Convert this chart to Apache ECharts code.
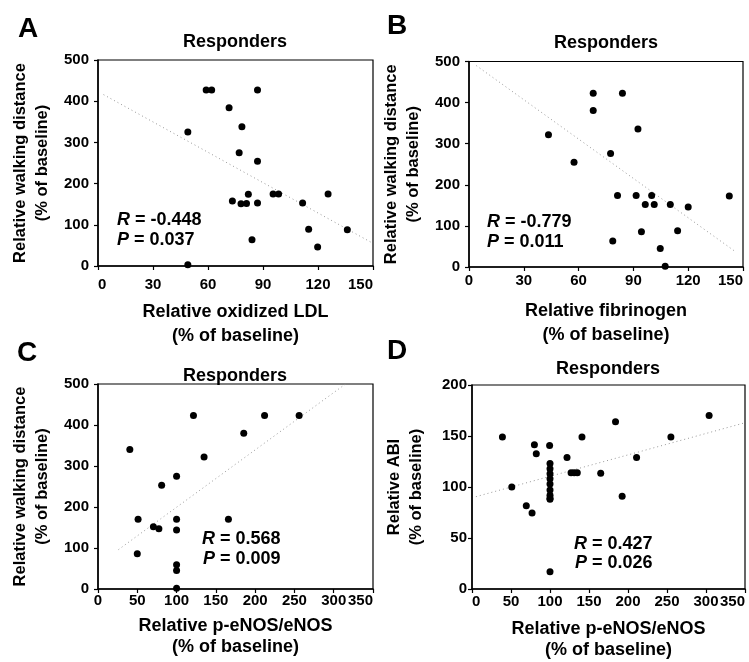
<!DOCTYPE html>
<html>
<head>
<meta charset="utf-8">
<script src="https://cdn.jsdelivr.net/npm/echarts@6/dist/echarts.min.js"></script>
<style>html,body{margin:0;padding:0;background:#fff;}#c{width:749px;height:662px;}</style>
</head>
<body>
<div id="c"></div>
<script>
// Panel A: relative oxidized LDL vs relative walking distance
const oxLDL_A = [59, 62, 87, 71.5, 78.5, 49, 77, 87, 82, 95.5, 98.5, 125.5, 73.3, 78, 81, 87, 111.6, 114.9, 136, 119.8, 84, 49];
const walk_A  = [427, 427, 427, 384, 338, 325, 275, 254, 174, 175, 175, 175, 158, 151, 152, 153, 153, 89, 88, 46, 64, 3];
const fitX_A = [3, 150];
const fitY_A = [416, 55];

// Panel B: relative fibrinogen vs relative walking distance
const fibr_B = [68, 84, 68, 92.5, 43.5, 57.5, 77.5, 81.3, 91.5, 100, 96.5, 101.4, 110.2, 120, 142.5, 94.4, 114.2, 78.7, 104.7, 107.4];
const walk_B = [423, 423, 381, 336, 322, 255, 276, 174, 174, 174, 152, 152, 152, 146, 173, 86, 88, 63, 45, 2];
const fitX_B = [4, 145];
const fitY_B = [490, 40];

// Panel C: relative p-eNOS/eNOS vs relative walking distance
const enos_C = [40.5, 51, 50, 70.5, 77.5, 81, 100, 100, 100, 100, 100, 100, 121.5, 135, 166, 185.5, 212, 256];
const walk_C = [340, 170, 86, 152, 147, 253, 275, 170, 144, 59, 45, 2, 423, 322, 170, 380, 423, 423];
const fitX_C = [26, 315];
const fitY_C = [96, 500];

// Panel D: relative p-eNOS/eNOS vs relative ABI
const enos_D = [39, 51, 69.6, 77, 80, 82.4, 99.5, 100, 100, 100, 100, 100, 100, 100, 100, 100, 100, 121.8, 127, 131, 135, 141, 165, 184, 192.5, 211, 255, 304];
const abi_D  = [149, 100, 81.5, 74.4, 141.5, 132.5, 140.6, 123, 118, 113, 108, 103, 97, 92, 89, 88, 17, 129, 114, 114, 114, 149, 113.5, 164, 91, 129, 149, 170];
const fitX_D = [5, 350];
const fitY_D = [90.5, 163];

const panelLetters = ['A', 'B', 'C', 'D'];
const panelTitle = 'Responders';
const stats = [['-0.448', '0.037'], ['-0.779', '0.011'], ['0.568', '0.009'], ['0.427', '0.026']];
const xNames = ['Relative oxidized LDL\n(% of baseline)', 'Relative fibrinogen\n(% of baseline)', 'Relative p-eNOS/eNOS\n(% of baseline)', 'Relative p-eNOS/eNOS\n(% of baseline)'];
const yNames = ['Relative walking distance\n(% of baseline)', 'Relative walking distance\n(% of baseline)', 'Relative walking distance\n(% of baseline)', 'Relative ABI\n(% of baseline)'];
const xRanges = [[0, 150, 30], [0, 150, 30], [0, 350, 50], [0, 350, 50]];
const yRanges = [[0, 500, 100], [0, 500, 100], [0, 500, 100], [0, 200, 50]];

const pts = [[oxLDL_A, walk_A], [fibr_B, walk_B], [enos_C, walk_C], [enos_D, abi_D]];
const fits = [[fitX_A, fitY_A], [fitX_B, fitY_B], [fitX_C, fitY_C], [fitX_D, fitY_D]];

const FONT = "'Liberation Sans', Arial, Helvetica, sans-serif";
const grids = [
  {left: 98, top: 60, width: 275, height: 206},
  {left: 469, top: 61.5, width: 274, height: 205.5},
  {left: 98, top: 384, width: 275, height: 205},
  {left: 472, top: 385, width: 273, height: 204}
];
const xLabelMargin = [11, 6, 4, 5];
const xMinAlign = ['left', 'center', 'center', 'left'];
const xNameGap = [34, 32, 27, 30];
const xNameLH = [24, 24, 21, 21];
const yLabelMargin = [9, 9, 9, 5];

const chart = echarts.init(document.getElementById('c'), null, {renderer: 'canvas'});

const xAxis = [], yAxis = [], series = [], titles = [];
for (let i = 0; i < 4; i++) {
  const common = {
    axisLine: {show: true, lineStyle: {color: '#000', width: 1.5}},
    axisTick: {show: true, inside: false, length: 4, lineStyle: {color: '#000', width: 1.2}},
    splitLine: {show: false},
    nameLocation: 'middle'
  };
  xAxis.push(Object.assign({}, common, {
    gridIndex: i, type: 'value', min: xRanges[i][0], max: xRanges[i][1], interval: xRanges[i][2],
    name: xNames[i], nameGap: xNameGap[i],
    nameTextStyle: {fontFamily: FONT, fontWeight: 'bold', fontSize: 18, color: '#000', lineHeight: xNameLH[i]},
    axisLabel: {fontFamily: FONT, fontWeight: 'bold', fontSize: 15, color: '#000', margin: xLabelMargin[i],
      alignMaxLabel: 'right', alignMinLabel: xMinAlign[i]}
  }));
  yAxis.push(Object.assign({}, common, {
    gridIndex: i, type: 'value', min: yRanges[i][0], max: yRanges[i][1], interval: yRanges[i][2],
    name: yNames[i], nameGap: 45, nameRotate: 90,
    nameTextStyle: {fontFamily: FONT, fontWeight: 'bold', fontSize: 16.5, color: '#000', lineHeight: 21.5},
    axisLabel: {fontFamily: FONT, fontWeight: 'bold', fontSize: 15, color: '#000', margin: yLabelMargin[i]}
  }));
  series.push({
    type: 'scatter', xAxisIndex: i, yAxisIndex: i,
    data: pts[i][0].map((x, k) => [x, pts[i][1][k]]),
    symbol: 'circle', symbolSize: 7,
    itemStyle: {color: '#000', opacity: 1}, silent: true, z: 3
  });
  series.push({
    type: 'line', xAxisIndex: i, yAxisIndex: i,
    data: fits[i][0].map((x, k) => [x, fits[i][1][k]]),
    symbol: 'none', silent: true, z: 2,
    lineStyle: {color: '#999', width: 1, type: [1, 3]}
  });
}

const letterPos = [[18, 15], [387, 12], [17, 339], [387, 337]];
const titlePos = [[235, 33], [606, 34.5], [235, 367.5], [608, 360]];
const statPos = [
  {left: 117, top: 210, align: 'left', lh: 20},
  {left: 487, top: 212, align: 'left', lh: 20},
  {right: 749 - 359, top: 529, align: 'right', lh: 20},
  {right: 749 - 731, top: 534.5, align: 'right', lh: 19}
];

for (let i = 0; i < 4; i++) {
  titles.push({
    text: panelLetters[i], left: letterPos[i][0], top: letterPos[i][1], padding: 0,
    textStyle: {fontFamily: FONT, fontWeight: 'bold', fontSize: 28, color: '#000'}
  });
  titles.push({
    text: panelTitle, left: titlePos[i][0], top: titlePos[i][1], textAlign: 'center', padding: 0,
    textStyle: {fontFamily: FONT, fontWeight: 'bold', fontSize: 18, color: '#000'}
  });
  const sp = statPos[i];
  const t = {
    text: '{i|R} = ' + stats[i][0] + '\n{i|P} = ' + stats[i][1],
    top: sp.top, padding: 0,
    textAlign: sp.align,
    textStyle: {
      fontFamily: FONT, fontWeight: 'bold', fontSize: 18, color: '#000', lineHeight: sp.lh,
      rich: {i: {fontFamily: FONT, fontWeight: 'bold', fontStyle: 'italic', fontSize: 18, color: '#000', lineHeight: sp.lh}}
    }
  };
  if (sp.left !== undefined) t.left = sp.left; else t.right = sp.right;
  titles.push(t);
}

chart.setOption({
  animation: false,
  backgroundColor: '#fff',
  title: titles,
  grid: grids.map(g => Object.assign({show: true, containLabel: false, outerBoundsMode: 'none', borderColor: '#000', borderWidth: 1.2, backgroundColor: 'transparent'}, g)),
  xAxis: xAxis,
  yAxis: yAxis,
  series: series
});
</script>
</body>
</html>
